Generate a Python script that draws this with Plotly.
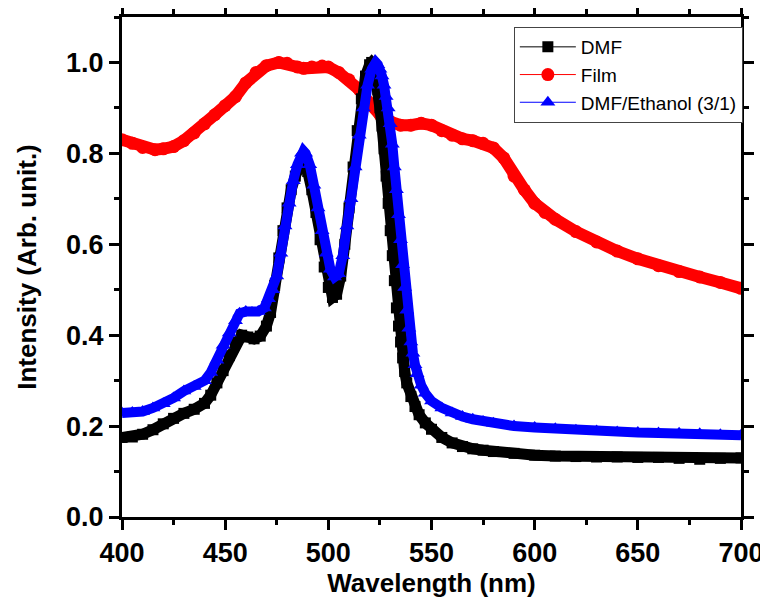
import plotly.graph_objects as go

# ---- data ----
dmf_x = [400, 405, 410, 415, 420, 425, 430, 435, 440, 443, 446, 449, 452, 455, 458, 461, 464, 467, 470, 472,
         474, 476, 478, 480, 482, 484, 486, 488, 490, 492, 494, 496, 498, 500, 502, 504, 506, 508, 510, 512,
         514, 516, 518, 520, 521, 522, 523, 524, 525, 526, 527, 528, 529, 530, 531, 532, 533, 534, 535, 536,
         537, 538, 540, 542, 544, 547, 550, 555, 560, 565, 570, 575, 580, 590, 600, 610, 620, 630, 640, 650,
         660, 670, 680, 690, 700]
dmf_y = [0.175, 0.176, 0.182, 0.192, 0.205, 0.217, 0.228, 0.237, 0.25, 0.268, 0.295, 0.322, 0.355, 0.385, 0.4, 0.396, 0.392, 0.398, 0.42, 0.45,
         0.51, 0.57, 0.63, 0.68, 0.72, 0.75, 0.77, 0.775, 0.76, 0.72, 0.67, 0.61, 0.55, 0.505, 0.483, 0.49, 0.53, 0.6, 0.68, 0.77,
         0.85, 0.92, 0.97, 0.995, 1.0, 0.995, 0.97, 0.94, 0.9, 0.86, 0.81, 0.75, 0.69, 0.63, 0.575, 0.52, 0.46, 0.42, 0.385, 0.35,
         0.32, 0.295, 0.265, 0.243, 0.225, 0.207, 0.193, 0.175, 0.163, 0.155, 0.15, 0.147, 0.144, 0.14, 0.136, 0.134, 0.133, 0.132, 0.132, 0.131,
         0.131, 0.129, 0.127, 0.129, 0.13]

film_x = [400, 405, 410, 416, 420, 425, 430, 435, 440, 445, 450, 455, 460, 465, 470, 476, 480, 485, 488, 492,
          497, 500, 505, 510, 515, 520, 525, 530, 535, 540, 545, 550, 555, 560, 565, 570, 575, 580, 585, 590,
          595, 600, 605, 610, 620, 630, 640, 650, 660, 670, 680, 690, 700]
film_y = [0.83, 0.822, 0.813, 0.808, 0.81, 0.815, 0.828, 0.845, 0.865, 0.885, 0.905, 0.925, 0.955, 0.978, 0.993, 1.0, 0.998, 0.99, 0.987, 0.99,
          0.992, 0.99, 0.978, 0.962, 0.94, 0.91, 0.885, 0.87, 0.862, 0.862, 0.866, 0.862, 0.85, 0.84, 0.832, 0.828, 0.822, 0.812, 0.79, 0.75,
          0.72, 0.69, 0.67, 0.655, 0.628, 0.605, 0.585, 0.568, 0.553, 0.54, 0.528, 0.516, 0.503]

mix_x = [400, 405, 410, 415, 420, 425, 430, 435, 440, 443, 446, 449, 452, 455, 457, 460, 463, 466, 469, 471,
         473, 475, 477, 479, 481, 483, 485, 487, 488, 489, 491, 493, 495, 497, 499, 501, 503, 505, 507, 509,
         511, 513, 515, 517, 519, 521, 523, 524, 525, 526, 527, 528, 529, 530, 531, 532, 533, 534, 535, 536,
         537, 538, 539, 540, 541, 542, 543, 545, 547, 550, 555, 560, 565, 570, 575, 580, 590, 600, 610, 620,
         630, 640, 650, 660, 670, 680, 690, 700]
mix_y = [0.229, 0.23, 0.232, 0.24, 0.249, 0.262, 0.277, 0.287, 0.3, 0.318, 0.345, 0.378, 0.405, 0.432, 0.448, 0.452, 0.45, 0.452, 0.46, 0.48,
         0.5, 0.53, 0.58, 0.64, 0.69, 0.74, 0.775, 0.8, 0.805, 0.8, 0.775, 0.73, 0.68, 0.63, 0.58, 0.545, 0.528, 0.535, 0.575, 0.64,
         0.7, 0.77, 0.84, 0.9, 0.95, 0.985, 1.0, 0.995, 0.985, 0.97, 0.95, 0.925, 0.9, 0.865, 0.82, 0.77, 0.72, 0.665, 0.61, 0.555,
         0.505, 0.455, 0.415, 0.385, 0.36, 0.335, 0.315, 0.29, 0.272, 0.255, 0.24, 0.229, 0.221, 0.215, 0.21, 0.206, 0.2, 0.197, 0.194, 0.191,
         0.189, 0.187, 0.186, 0.185, 0.184, 0.183, 0.181, 0.18]

x_ticks = [400, 450, 500, 550, 600, 650, 700]
y_ticks = [0.0, 0.2, 0.4, 0.6, 0.8, 1.0]

FONT = "Liberation Sans, Arial, sans-serif"

series = [
    # name, x, y, color, symbol, size, band width, legend rank
    ("Film", film_x, film_y, "#ff0000", "circle", 13, 12, 2),
    ("DMF", dmf_x, dmf_y, "#000000", "square", 11, 11, 1),
    ("DMF/Ethanol (3/1)", mix_x, mix_y, "#0000ff", "triangle-up", 13, 10, 3),
]

fig = go.Figure()
for name, xs, ys, col, sym, sz, bw, rank in series:
    fig.add_trace(go.Scatter(x=xs, y=ys, mode="lines", line=dict(color=col, width=bw),
                             showlegend=False, hoverinfo="skip"))
    fig.add_trace(go.Scatter(x=xs, y=ys, mode="lines+markers", name=name, legendrank=rank,
                             line=dict(color=col, width=1),
                             marker=dict(symbol=sym, size=sz, color=col, line=dict(width=0))))

axis_common = dict(
    showline=True, linecolor="black", linewidth=3, mirror="ticks",
    ticks="outside", ticklen=10, tickwidth=2.5, tickcolor="black",
    showgrid=False, zeroline=False, automargin=False,
    tickfont=dict(family=FONT, size=27, color="black", weight="bold"),
)

fig.update_xaxes(range=[400, 700], tickvals=x_ticks, ticktext=[str(v) for v in x_ticks],
                 minor=dict(dtick=25, ticks="outside", ticklen=5, tickwidth=2.5, tickcolor="black"),
                 title=dict(text="Wavelength (nm)", standoff=4,
                            font=dict(family=FONT, size=26, color="black", weight="bold")),
                 **axis_common)
fig.update_yaxes(range=[0, 1.1], tickvals=y_ticks, ticktext=[f"{v:.1f}" for v in y_ticks],
                 minor=dict(dtick=0.1, ticks="outside", ticklen=5, tickwidth=2.5, tickcolor="black"),
                 title=dict(text="Intensity (Arb. unit.)", standoff=22,
                            font=dict(family=FONT, size=26, color="black", weight="bold")),
                 **axis_common)

# the page body has an 8px margin, so the figure is 760x598 and offsets are shifted
fig.update_layout(
    width=760, height=598,
    margin=dict(l=114, r=27, t=9, b=89),
    plot_bgcolor="white", paper_bgcolor="white",
    legend=dict(x=1.003, y=0.98, xanchor="right", yanchor="top",
                bgcolor="white", bordercolor="#444444", borderwidth=1,
                font=dict(family=FONT, size=19, color="black"),
                itemwidth=56, tracegroupgap=0),
)

fig.write_html("out.html")
